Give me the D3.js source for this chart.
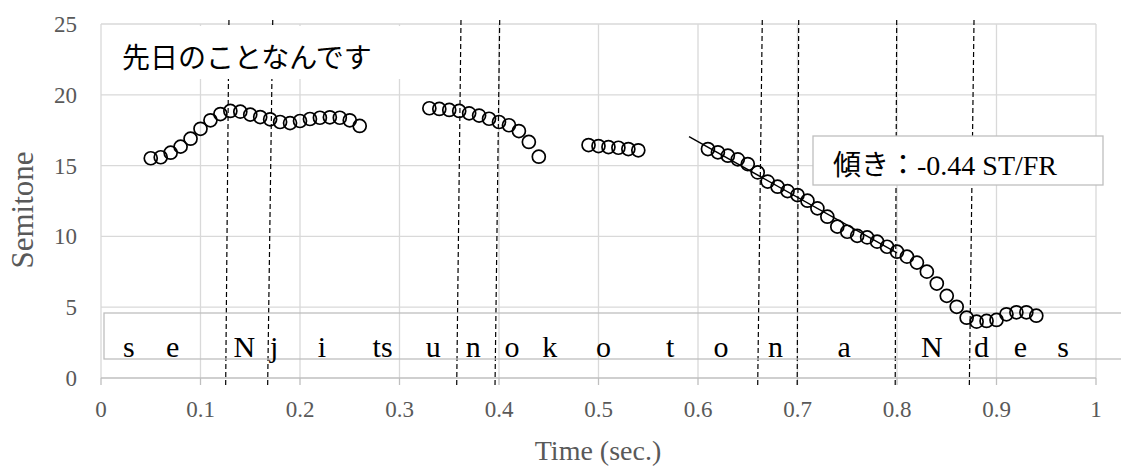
<!DOCTYPE html>
<html>
<head>
<meta charset="utf-8">
<script src="https://cdn.jsdelivr.net/npm/d3@7"></script>
<style>
    html, body { margin: 0; padding: 0; background: #fff; }
    svg { display: block; }
    .grid line { stroke: #d9d9d9; stroke-width: 1.3; }
    .tick-label { fill: #595959; font-family: 'Liberation Serif', serif; font-size: 23px; }
    .axis-title { fill: #595959; font-family: 'Liberation Serif', serif; font-size: 28px; }
    .phoneme { fill: #000; font-family: 'Liberation Serif', serif; font-size: 30px; text-anchor: middle; }
    .note { fill: #000; font-family: 'Liberation Serif', 'Noto Sans CJK JP', serif; }
</style>
</head>
<body>
<svg width="1121" height="466"></svg>
<script>
'use strict';

// pitch track (sec., semitone)
var pitchTimes = [
    0.05, 0.06, 0.07, 0.08, 0.09, 0.10, 0.11, 0.12, 0.13, 0.14, 0.15,
    0.16, 0.17, 0.18, 0.19, 0.20, 0.21, 0.22, 0.23, 0.24, 0.25, 0.26,
    0.33, 0.34, 0.35, 0.36, 0.37, 0.38, 0.39, 0.40, 0.41, 0.42, 0.43, 0.44,
    0.49, 0.50, 0.51, 0.52, 0.53, 0.54,
    0.61, 0.62, 0.63, 0.64, 0.65, 0.66, 0.67, 0.68, 0.69, 0.70, 0.71, 0.72,
    0.73, 0.74, 0.75, 0.76, 0.77, 0.78, 0.79, 0.80, 0.81, 0.82, 0.83, 0.84,
    0.85, 0.86, 0.87, 0.88, 0.89, 0.90, 0.91, 0.92, 0.93, 0.94
];
var pitchValues = [
    15.52, 15.59, 15.91, 16.34, 16.90, 17.60, 18.20, 18.64, 18.86, 18.81, 18.60,
    18.43, 18.27, 18.08, 18.00, 18.15, 18.29, 18.38, 18.41, 18.38, 18.20, 17.80,
    19.05, 19.00, 18.93, 18.86, 18.69, 18.53, 18.31, 18.08, 17.85, 17.44, 16.67, 15.63,
    16.45, 16.38, 16.31, 16.26, 16.17, 16.08,
    16.17, 15.94, 15.70, 15.44, 15.11, 14.52, 13.87, 13.51, 13.20, 12.92, 12.52, 11.98,
    11.39, 10.69, 10.33, 10.04, 9.93, 9.63, 9.27, 8.92, 8.57, 8.15, 7.51, 6.67,
    5.80, 5.03, 4.26, 3.98, 4.03, 4.10, 4.50, 4.64, 4.64, 4.40
];

// segment boundaries (slightly slanted: time at top, time at bottom)
var boundaryTop = [0.1286, 0.1726, 0.3618, 0.4007, 0.6646, 0.7012, 0.7997, 0.8774];
var boundaryBottom = [0.1253, 0.1675, 0.3575, 0.3960, 0.6600, 0.6997, 0.7982, 0.8727];

var phonemes = ['s', 'e', 'N', 'j', 'i', 'ts', 'u', 'n', 'o', 'k', 'o', 't', 'o', 'n', 'a', 'N', 'd', 'e', 's'];
var phonemeTimes = [0.028, 0.072, 0.144, 0.174, 0.222, 0.283, 0.334, 0.374, 0.413, 0.451,
    0.505, 0.572, 0.623, 0.678, 0.747, 0.835, 0.885, 0.924, 0.967];

// regression line
var slopeStart = [0.591, 17.04];
var slopeEnd = [0.800, 8.83];

var xTicks = [0, 0.1, 0.2, 0.3, 0.4, 0.5, 0.6, 0.7, 0.8, 0.9, 1];
var xTickLabels = ['0', '0.1', '0.2', '0.3', '0.4', '0.5', '0.6', '0.7', '0.8', '0.9', '1'];
var yTicks = [0, 5, 10, 15, 20, 25];

var sentence = '先日のことなんです';
var slopeLabel = '傾き：-0.44 ST/FR';

(function() {

    var svg = d3.select('svg');

    var x = d3.scaleLinear().domain([0, 1]).range([101, 1096]);
    var y = d3.scaleLinear().domain([0, 25]).range([378, 24]);

    var points = pitchTimes.map(function(t, i) {
        return { t: t, v: pitchValues[i] };
    });

    // gridlines
    var grid = svg.append('g').attr('class', 'grid');

    grid.selectAll('.hgrid')
        .data(yTicks.slice(1))
        .enter().append('line')
        .attr('x1', x(0)).attr('x2', x(1))
        .attr('y1', function(d) { return y(d); })
        .attr('y2', function(d) { return y(d); });

    grid.selectAll('.vgrid')
        .data(xTicks)
        .enter().append('line')
        .attr('x1', function(d) { return x(d); })
        .attr('x2', function(d) { return x(d); })
        .attr('y1', y(25)).attr('y2', y(0));

    // x axis line + outside ticks
    svg.append('line')
        .attr('x1', x(0)).attr('x2', x(1))
        .attr('y1', y(0)).attr('y2', y(0))
        .style('stroke', '#bfbfbf').style('stroke-width', 1.5);

    svg.selectAll('.xtick')
        .data(xTicks)
        .enter().append('line')
        .attr('x1', function(d) { return x(d); })
        .attr('x2', function(d) { return x(d); })
        .attr('y1', y(0)).attr('y2', y(0) + 7)
        .style('stroke', '#bfbfbf').style('stroke-width', 1.3);

    // tick labels
    svg.selectAll('.xlabel')
        .data(xTicks)
        .enter().append('text')
        .attr('class', 'tick-label')
        .attr('x', function(d) { return x(d); })
        .attr('y', 417)
        .attr('text-anchor', 'middle')
        .text(function(d, i) { return xTickLabels[i]; });

    svg.selectAll('.ylabel')
        .data(yTicks)
        .enter().append('text')
        .attr('class', 'tick-label')
        .attr('x', 77)
        .attr('y', function(d) { return y(d) + 8; })
        .attr('text-anchor', 'end')
        .text(function(d) { return d; });

    // axis titles
    svg.append('text')
        .attr('class', 'axis-title')
        .attr('x', 598).attr('y', 460)
        .attr('text-anchor', 'middle')
        .text('Time (sec.)');

    svg.append('text')
        .attr('class', 'axis-title')
        .attr('text-anchor', 'middle')
        .style('font-size', '31px')
        .attr('transform', 'translate(33,210) rotate(-90)')
        .text('Semitone');

    // segment boundaries
    svg.selectAll('.boundary')
        .data(boundaryTop)
        .enter().append('line')
        .attr('x1', function(d) { return x(d); })
        .attr('x2', function(d, i) { return x(boundaryBottom[i]); })
        .attr('y1', y(25.28)).attr('y2', y(-0.5))
        .style('stroke', '#000')
        .style('stroke-width', 1.2)
        .style('stroke-dasharray', '5,3');

    // sentence box
    svg.append('rect')
        .attr('x', 103).attr('y', 26)
        .attr('width', 300).attr('height', 53)
        .style('fill', '#fff');

    svg.append('text')
        .attr('class', 'note')
        .attr('x', 122).attr('y', 68)
        .style('font-size', '28px')
        .text(sentence);

    // phoneme strip
    svg.append('rect')
        .attr('x', 104).attr('y', 313)
        .attr('width', 1030).attr('height', 46)
        .style('fill', 'none')
        .style('stroke', '#bfbfbf')
        .style('stroke-width', 1.3);

    svg.selectAll('.phoneme')
        .data(phonemes)
        .enter().append('text')
        .attr('class', 'phoneme')
        .attr('x', function(d, i) { return x(phonemeTimes[i]); })
        .attr('y', 357)
        .text(function(d) { return d; });

    // pitch points
    svg.selectAll('.pt')
        .data(points)
        .enter().append('circle')
        .attr('cx', function(d) { return x(d.t); })
        .attr('cy', function(d) { return y(d.v); })
        .attr('r', 6.5)
        .style('fill', 'none')
        .style('stroke', '#000')
        .style('stroke-width', 1.7);

    // regression line
    svg.append('line')
        .attr('x1', x(slopeStart[0])).attr('y1', y(slopeStart[1]))
        .attr('x2', x(slopeEnd[0])).attr('y2', y(slopeEnd[1]))
        .style('stroke', '#000')
        .style('stroke-width', 1.4);

    // slope box
    svg.append('rect')
        .attr('x', 813).attr('y', 136)
        .attr('width', 290).attr('height', 49)
        .style('fill', '#fff')
        .style('stroke', '#bfbfbf')
        .style('stroke-width', 1.3);

    svg.append('text')
        .attr('class', 'note')
        .attr('x', 833).attr('y', 175)
        .style('font-size', '28px')
        .text(slopeLabel);

})();
</script>
</body>
</html>
